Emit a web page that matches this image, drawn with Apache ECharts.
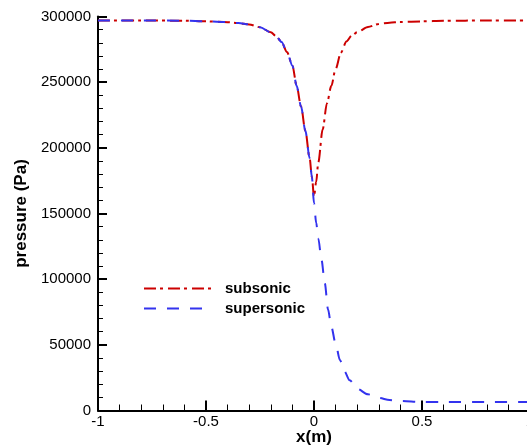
<!DOCTYPE html>
<html>
<head>
<meta charset="utf-8">
<script src="https://cdn.jsdelivr.net/npm/echarts@6/dist/echarts.min.js"></script>
<style>
html,body{margin:0;padding:0;background:#fff;}
#chart{width:527px;height:447px;}
</style>
</head>
<body>
<div id="chart"></div>
<script>
// Data
const seriesNames = ["subsonic", "supersonic"];
const xTickLabels = ["-1", "-0.5", "0", "0.5", "1"];
const yTickLabels = ["0", "50000", "100000", "150000", "200000", "250000", "300000"];

const subsonicX = [-1, -0.8, -0.6, -0.5, -0.4, -0.35, -0.3, -0.25, -0.2, -0.175, -0.15, -0.125, -0.1, -0.08, -0.06, -0.04, -0.02, -0.01, 0, 0.01, 0.02, 0.04, 0.06, 0.08, 0.1, 0.125, 0.15, 0.175, 0.2, 0.25, 0.3, 0.35, 0.4, 0.5, 0.6, 0.8, 1];
const subsonicP = [297000, 297000, 296800, 296300, 295700, 295000, 294000, 291800, 288000, 285000, 280500, 273000, 262500, 247000, 231500, 213000, 192000, 178000, 163000, 174000, 189000, 214000, 234000, 247000, 260000, 272500, 281000, 285500, 288000, 292000, 294300, 295300, 295800, 296300, 296700, 297000, 297000];

const supersonicX = [-1, -0.8, -0.6, -0.5, -0.4, -0.35, -0.3, -0.25, -0.2, -0.175, -0.15, -0.125, -0.1, -0.08, -0.06, -0.04, -0.02, -0.01, 0, 0.01, 0.02, 0.035, 0.05, 0.065, 0.08, 0.1, 0.12, 0.14, 0.165, 0.2, 0.25, 0.3, 0.35, 0.4, 0.5, 0.6, 0.8, 1];
const supersonicP = [297000, 297000, 296800, 296300, 295700, 295000, 294000, 291800, 288000, 285000, 280500, 273000, 262500, 247000, 231500, 213000, 192000, 178000, 158000, 143000, 131000, 114500, 97000, 77000, 64000, 51000, 38500, 30000, 23000, 16500, 12300, 9600, 8000, 7200, 6500, 6400, 6400, 6400];

function pairs(xs, ys) { return xs.map((x, i) => [x, ys[i]]); }

const chart = echarts.init(document.getElementById('chart'), null, {renderer: 'canvas'});
const font = 'Liberation Sans, Arial, Helvetica, sans-serif';

chart.setOption({
  animation: false,
  backgroundColor: '#ffffff',
  textStyle: {fontFamily: font},
  grid: {left: 98, top: 16.5, width: 432, height: 394, containLabel: false, outerBoundsMode: 'none'},
  legend: {
    orient: 'vertical',
    left: 138,
    top: 276,
    itemWidth: 68,
    itemHeight: 14,
    itemGap: 5,
    itemStyle: {opacity: 0},
    data: seriesNames,
    textStyle: {fontFamily: font, fontSize: 15, fontWeight: 'bold', color: '#000', padding: [0, 0, 0, 8]}
  },
  xAxis: {
    type: 'value',
    min: -1, max: 1, interval: 0.5,
    name: 'x(m)',
    nameLocation: 'middle',
    nameGap: 18,
    nameMoveOverlap: false,
    nameTextStyle: {fontFamily: font, fontSize: 17, fontWeight: 'bold', color: '#000'},
    axisLine: {show: true, onZero: false, lineStyle: {color: '#000', width: 2}},
    axisTick: {show: true, inside: true, length: 10, lineStyle: {color: '#000', width: 2}},
    minorTick: {show: true, splitNumber: 5, length: 6, lineStyle: {color: '#000', width: 1}},
    splitLine: {show: false},
    axisLabel: {
      fontFamily: font, fontSize: 15, color: '#000', margin: 4,
      formatter: function (v) {
        const idx = Math.round((v + 1) / 0.5);
        return xTickLabels[idx] !== undefined ? xTickLabels[idx] : '';
      }
    }
  },
  yAxis: {
    type: 'value',
    min: 0, max: 300000, interval: 50000,
    name: 'pressure (Pa)',
    nameLocation: 'middle',
    nameGap: 68,
    nameMoveOverlap: false,
    nameTextStyle: {fontFamily: font, fontSize: 17, fontWeight: 'bold', color: '#000'},
    axisLine: {show: true, onZero: false, lineStyle: {color: '#000', width: 2}},
    axisTick: {show: true, inside: true, length: 9, lineStyle: {color: '#000', width: 2}},
    minorTick: {show: true, splitNumber: 5, length: 5, lineStyle: {color: '#000', width: 1}},
    splitLine: {show: false},
    axisLabel: {
      fontFamily: font, fontSize: 15, color: '#000', margin: 7,
      formatter: function (v) {
        const idx = Math.round(v / 50000);
        return yTickLabels[idx] !== undefined ? yTickLabels[idx] : '';
      }
    }
  },
  series: [
    {
      name: seriesNames[0],
      type: 'line',
      data: pairs(subsonicX, subsonicP),
      symbol: 'none',
      smooth: 0.3,
      smoothMonotone: 'x',
      color: '#cc0000',
      lineStyle: {color: '#cc0000', width: 2, type: [12, 4, 3, 5]},
      z: 2
    },
    {
      name: seriesNames[1],
      type: 'line',
      data: pairs(supersonicX, supersonicP),
      symbol: 'none',
      smooth: 0.3,
      smoothMonotone: 'x',
      color: '#3333ee',
      lineStyle: {color: '#3333ee', width: 2, type: [12, 11]},
      z: 3
    }
  ]
});
</script>
</body>
</html>
